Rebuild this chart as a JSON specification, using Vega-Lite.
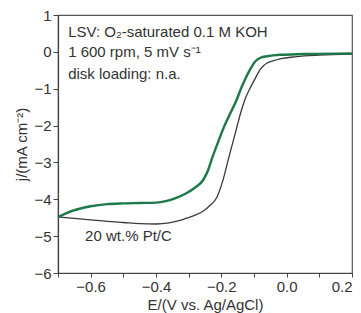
{
  "$schema": "https://vega.github.io/schema/vega-lite/v6.json",
  "width": 294,
  "height": 258,
  "autosize": "none",
  "padding": {"left": 58, "top": 15, "right": 9, "bottom": 40},
  "background": "white",
  "config": {
    "font": "Liberation Sans",
    "view": {"stroke": "#555", "strokeWidth": 1.2},
    "axis": {
      "domainColor": "#444", "domainWidth": 1.2,
      "tickColor": "#444", "tickWidth": 1,
      "labelFontSize": 15, "labelColor": "#333", "labelPadding": 2,
      "titleFontSize": 15, "titleColor": "#333", "titleFontWeight": "normal",
      "grid": false
    }
  },
  "datasets": {
    "curves": [
      {"series": "Pt/C", "E": -0.70, "j": -4.48},
      {"series": "Pt/C", "E": -0.65, "j": -4.52},
      {"series": "Pt/C", "E": -0.60, "j": -4.56},
      {"series": "Pt/C", "E": -0.55, "j": -4.60},
      {"series": "Pt/C", "E": -0.50, "j": -4.63},
      {"series": "Pt/C", "E": -0.45, "j": -4.66},
      {"series": "Pt/C", "E": -0.40, "j": -4.67},
      {"series": "Pt/C", "E": -0.36, "j": -4.64},
      {"series": "Pt/C", "E": -0.33, "j": -4.58},
      {"series": "Pt/C", "E": -0.306, "j": -4.51},
      {"series": "Pt/C", "E": -0.28, "j": -4.43},
      {"series": "Pt/C", "E": -0.255, "j": -4.32},
      {"series": "Pt/C", "E": -0.235, "j": -4.17},
      {"series": "Pt/C", "E": -0.214, "j": -3.95},
      {"series": "Pt/C", "E": -0.195, "j": -3.48},
      {"series": "Pt/C", "E": -0.179, "j": -2.93},
      {"series": "Pt/C", "E": -0.16, "j": -2.3},
      {"series": "Pt/C", "E": -0.138, "j": -1.57},
      {"series": "Pt/C", "E": -0.128, "j": -1.30},
      {"series": "Pt/C", "E": -0.11, "j": -0.95},
      {"series": "Pt/C", "E": -0.095, "j": -0.7},
      {"series": "Pt/C", "E": -0.082, "j": -0.49},
      {"series": "Pt/C", "E": -0.07, "j": -0.37},
      {"series": "Pt/C", "E": -0.061, "j": -0.31},
      {"series": "Pt/C", "E": -0.04, "j": -0.24},
      {"series": "Pt/C", "E": -0.02, "j": -0.19},
      {"series": "Pt/C", "E": 0.03, "j": -0.13},
      {"series": "Pt/C", "E": 0.10, "j": -0.09},
      {"series": "Pt/C", "E": 0.20, "j": -0.06},
      {"series": "sample", "E": -0.70, "j": -4.48},
      {"series": "sample", "E": -0.67, "j": -4.36},
      {"series": "sample", "E": -0.64, "j": -4.27},
      {"series": "sample", "E": -0.60, "j": -4.19},
      {"series": "sample", "E": -0.55, "j": -4.13},
      {"series": "sample", "E": -0.50, "j": -4.11},
      {"series": "sample", "E": -0.45, "j": -4.10},
      {"series": "sample", "E": -0.40, "j": -4.09},
      {"series": "sample", "E": -0.37, "j": -4.05},
      {"series": "sample", "E": -0.34, "j": -3.97},
      {"series": "sample", "E": -0.31, "j": -3.85},
      {"series": "sample", "E": -0.28, "j": -3.68},
      {"series": "sample", "E": -0.255, "j": -3.47},
      {"series": "sample", "E": -0.24, "j": -3.2},
      {"series": "sample", "E": -0.23, "j": -2.93},
      {"series": "sample", "E": -0.21, "j": -2.45},
      {"series": "sample", "E": -0.19, "j": -2.0},
      {"series": "sample", "E": -0.17, "j": -1.62},
      {"series": "sample", "E": -0.153, "j": -1.30},
      {"series": "sample", "E": -0.14, "j": -1.0},
      {"series": "sample", "E": -0.125, "j": -0.7},
      {"series": "sample", "E": -0.11, "j": -0.45},
      {"series": "sample", "E": -0.10, "j": -0.30},
      {"series": "sample", "E": -0.09, "j": -0.21},
      {"series": "sample", "E": -0.08, "j": -0.16},
      {"series": "sample", "E": -0.06, "j": -0.12},
      {"series": "sample", "E": -0.02, "j": -0.08},
      {"series": "sample", "E": 0.05, "j": -0.06},
      {"series": "sample", "E": 0.20, "j": -0.04}
    ],
    "notes": [
      {"E": -0.669, "j": 0.54, "label": "LSV: O₂-saturated 0.1 M KOH"},
      {"E": -0.669, "j": 0.0, "label": "1 600 rpm, 5 mV s⁻¹"},
      {"E": -0.669, "j": -0.6, "label": "disk loading: n.a."},
      {"E": -0.617, "j": -4.99, "label": "20 wt.% Pt/C"}
    ]
  },
  "encoding": {
    "x": {
      "field": "E", "type": "quantitative",
      "scale": {"domain": [-0.7, 0.2], "nice": false, "zero": false},
      "axis": {
        "title": "E/(V vs. Ag/AgCl)",
        "values": [-0.7, -0.6, -0.5, -0.4, -0.3, -0.2, -0.1, 0.0, 0.1, 0.2],
        "format": ".1f",
        "labelExpr": "round(datum.value*10) % 2 === 0 ? datum.label : ''",
        "tickSize": 4,
        "titlePadding": 3
      }
    },
    "y": {
      "field": "j", "type": "quantitative",
      "scale": {"domain": [-6, 1], "nice": false, "zero": false},
      "axis": {
        "title": "j/(mA cm⁻²)",
        "values": [-6, -5.5, -5, -4.5, -4, -3.5, -3, -2.5, -2, -1.5, -1, -0.5, 0, 0.5, 1],
        "format": "d",
        "labelExpr": "datum.value % 1 === 0 ? datum.label : ''",
        "tickSize": {"condition": {"test": "datum.value % 1 === 0", "value": 5}, "value": 3},
        "titlePadding": 4
      }
    }
  },
  "layer": [
    {
      "data": {"name": "curves"},
      "mark": {"type": "line", "interpolate": "monotone"},
      "encoding": {
        "color": {"field": "series", "type": "nominal", "scale": {"domain": ["Pt/C", "sample"], "range": ["#3a3a3a", "#1b7a48"]}, "legend": null},
        "strokeWidth": {"field": "series", "type": "nominal", "scale": {"domain": ["Pt/C", "sample"], "range": [1.3, 2.4]}, "legend": null}
      }
    },
    {
      "data": {"name": "notes"},
      "mark": {"type": "text", "align": "left", "baseline": "middle", "fontSize": 15, "color": "#333"},
      "encoding": {"text": {"field": "label"}}
    }
  ]
}
